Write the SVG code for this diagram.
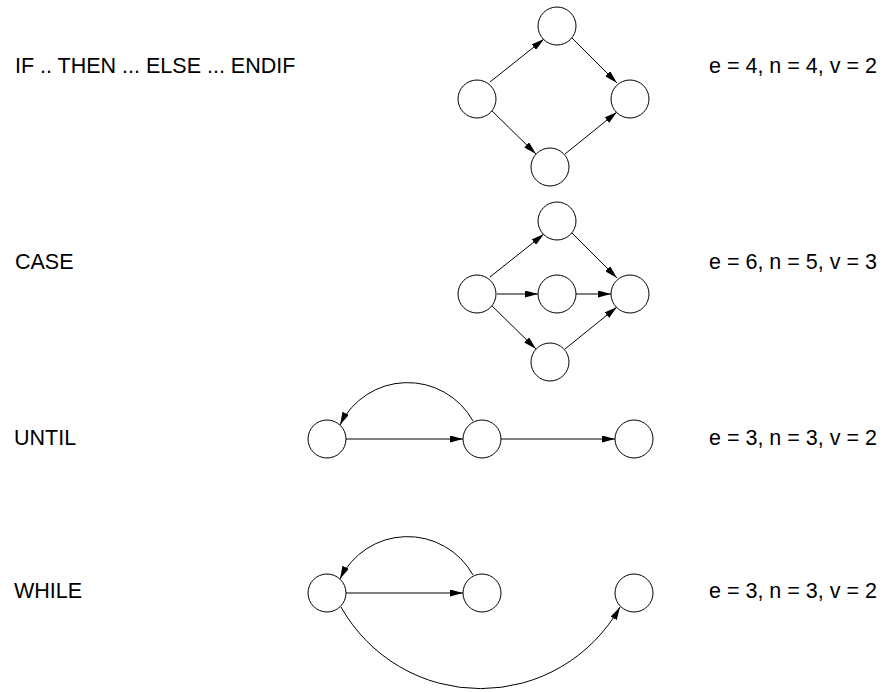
<svg xmlns="http://www.w3.org/2000/svg" width="885" height="692" viewBox="0 0 885 692">
  <style>
    .node { fill: #fff; stroke: #000; stroke-width: 1; }
    .edge { fill: none; stroke: #000; stroke-width: 1; marker-end: url(#arrow); }
    .label { font-family: "Liberation Sans", Arial, sans-serif; font-size: 21.5px; fill: #000; }
  </style>
  <defs>
    <marker id="arrow" markerUnits="userSpaceOnUse" markerWidth="13" markerHeight="7" viewBox="0 0 13 7" refX="13" refY="3.5" orient="auto">
      <path d="M0,0 L13,3.5 L0,7 z" fill="#000"/>
    </marker>
  </defs>

  <rect width="885" height="692" fill="#fff"/>

  <!-- row labels -->
  <g id="labels">
    <text class="label" x="15" y="73">IF .. THEN ... ELSE ... ENDIF</text>
    <text class="label" x="15" y="269">CASE</text>
    <text class="label" x="14" y="445">UNTIL</text>
    <text class="label" x="14" y="598">WHILE</text>
    <text class="label" x="709" y="73">e = 4, n = 4, v = 2</text>
    <text class="label" x="709" y="269">e = 6, n = 5, v = 3</text>
    <text class="label" x="709" y="445">e = 3, n = 3, v = 2</text>
    <text class="label" x="709" y="598">e = 3, n = 3, v = 2</text>
  </g>

  <!-- connectors -->
  <g id="connectors">
    <!-- IF / THEN / ELSE -->
    <line class="edge" x1="490" y1="82" x2="544" y2="39"/>
    <line class="edge" x1="572" y1="38" x2="617" y2="83"/>
    <line class="edge" x1="490" y1="109" x2="536" y2="154"/>
    <line class="edge" x1="565" y1="154" x2="617" y2="112"/>
    <!-- CASE -->
    <line class="edge" x1="490" y1="277" x2="544" y2="234"/>
    <line class="edge" x1="572" y1="233" x2="617" y2="278"/>
    <line class="edge" x1="497" y1="294" x2="538" y2="294"/>
    <line class="edge" x1="576" y1="294" x2="611" y2="294"/>
    <line class="edge" x1="490" y1="304" x2="536" y2="349"/>
    <line class="edge" x1="565" y1="349" x2="617" y2="307"/>
    <!-- UNTIL -->
    <line class="edge" x1="346" y1="439" x2="463" y2="439"/>
    <line class="edge" x1="501" y1="439" x2="615" y2="439"/>
    <path class="edge" d="M473,421 A75,75 0 0 0 340,425"/>
    <!-- WHILE -->
    <line class="edge" x1="346" y1="593" x2="463" y2="593"/>
    <path class="edge" d="M473,575 A75,75 0 0 0 340,579"/>
    <path class="edge" d="M341,607 A160,160 0 0 0 620,607"/>
  </g>

  <!-- IF .. THEN ... ELSE ... ENDIF -->
  <g id="if-entry"><circle class="node" cx="477" cy="99" r="19"/></g>
  <g id="if-then"><circle class="node" cx="557" cy="26" r="19"/></g>
  <g id="if-else"><circle class="node" cx="550" cy="167" r="19"/></g>
  <g id="if-exit"><circle class="node" cx="630" cy="99" r="19"/></g>

  <!-- CASE -->
  <g id="case-entry"><circle class="node" cx="477" cy="294" r="19"/></g>
  <g id="case-a"><circle class="node" cx="557" cy="221" r="19"/></g>
  <g id="case-b"><circle class="node" cx="557" cy="294" r="19"/></g>
  <g id="case-c"><circle class="node" cx="550" cy="362" r="19"/></g>
  <g id="case-exit"><circle class="node" cx="630" cy="294" r="19"/></g>

  <!-- UNTIL -->
  <g id="until-body"><circle class="node" cx="327" cy="439" r="19"/></g>
  <g id="until-test"><circle class="node" cx="482" cy="439" r="19"/></g>
  <g id="until-exit"><circle class="node" cx="634" cy="439" r="19"/></g>

  <!-- WHILE -->
  <g id="while-test"><circle class="node" cx="327" cy="593" r="19"/></g>
  <g id="while-body"><circle class="node" cx="482" cy="593" r="19"/></g>
  <g id="while-exit"><circle class="node" cx="634" cy="593" r="19"/></g>
</svg>
